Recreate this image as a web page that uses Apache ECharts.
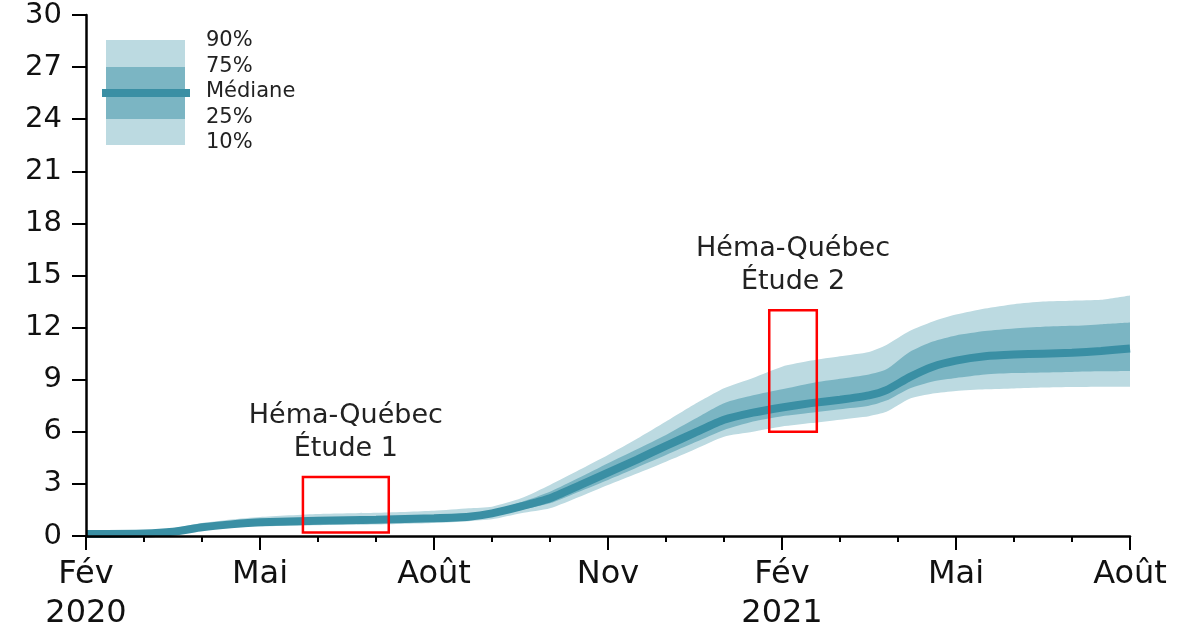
<!DOCTYPE html>
<html>
<head>
<meta charset="utf-8">
<script src="https://cdn.jsdelivr.net/npm/echarts@6/dist/echarts.min.js"></script>
<style>
  html, body { margin: 0; padding: 0; background: #fff; }
  #chart { width: 1193px; height: 630px; }
</style>
</head>
<body>
<div id="chart"></div>
<script>
  // mois depuis février 2020
  const months = [0, 1, 1.5, 2, 2.5, 3, 4, 5, 6, 6.6, 7, 7.5, 8, 8.5, 9, 9.5, 10, 10.5, 11, 11.5, 12, 12.5, 13, 13.5, 13.8, 14.2, 14.6, 15, 15.5, 16, 16.5, 17, 17.5, 18]
  const p10 = [0.03, 0.05, 0.12, 0.35, 0.48, 0.55, 0.62, 0.66, 0.75, 0.85, 0.96, 1.31, 1.6, 2.25, 2.94, 3.6, 4.28, 5.0, 5.72, 6.0, 6.3, 6.5, 6.7, 6.9, 7.15, 7.9, 8.2, 8.35, 8.45, 8.5, 8.55, 8.58, 8.6, 8.6]
  const p25 = [0.07, 0.1, 0.18, 0.42, 0.58, 0.7, 0.78, 0.83, 0.92, 1.0, 1.17, 1.5, 1.88, 2.55, 3.23, 3.95, 4.67, 5.4, 6.11, 6.6, 6.9, 7.1, 7.3, 7.5, 7.8, 8.5, 8.9, 9.1, 9.3, 9.38, 9.42, 9.45, 9.48, 9.5]
  const median = [0.12, 0.15, 0.25, 0.5, 0.67, 0.79, 0.88, 0.93, 1.02, 1.11, 1.3, 1.7, 2.17, 2.9, 3.65, 4.4, 5.19, 5.95, 6.69, 7.1, 7.4, 7.65, 7.85, 8.1, 8.4, 9.15, 9.75, 10.1, 10.35, 10.45, 10.5, 10.55, 10.65, 10.8]
  const p75 = [0.18, 0.2, 0.32, 0.58, 0.76, 0.88, 0.98, 1.04, 1.14, 1.24, 1.45, 1.95, 2.55, 3.35, 4.19, 5.0, 5.82, 6.75, 7.65, 8.1, 8.45, 8.8, 9.05, 9.3, 9.6, 10.6, 11.2, 11.55, 11.8, 11.95, 12.05, 12.1, 12.2, 12.3]
  const p90 = [0.25, 0.27, 0.45, 0.75, 0.95, 1.1, 1.27, 1.34, 1.46, 1.6, 1.69, 2.17, 2.94, 3.8, 4.67, 5.6, 6.59, 7.6, 8.51, 9.1, 9.75, 10.1, 10.35, 10.6, 11.0, 11.8, 12.35, 12.75, 13.1, 13.35, 13.5, 13.55, 13.6, 13.85]

  const tickLabels = { 0: 'Fév\n2020', 3: 'Mai', 6: 'Août', 9: 'Nov', 12: 'Fév\n2021', 15: 'Mai', 18: 'Août' }

  // études Héma-Québec : [mois début, mois fin, bas, haut]
  const studies = [
    { name: 'Héma-Québec\nÉtude 1', box: [3.74, 5.22, 0.2, 3.4] },
    { name: 'Héma-Québec\nÉtude 2', box: [11.78, 12.6, 6.0, 13.0] }
  ]

  const light = '#bcdae1'
  const mid = '#7bb5c3'
  const dark = '#3a8fa4'
  const font = '"DejaVu Sans", sans-serif'

  const pairs = arr => months.map((m, i) => [m, arr[i]])

  // bandes : on peint du haut vers le bas (90 clair, 75 moyen, 25 clair, 10 blanc)
  const area = (name, arr, color) => ({
    name: name,
    type: 'line',
    data: pairs(arr),
    smooth: 0.2,
    showSymbol: false,
    lineStyle: { width: 0 },
    areaStyle: { color: color, opacity: 1 },
    z: 2,
    silent: true
  })

  const chart = echarts.init(document.getElementById('chart'))
  chart.setOption({
    animation: false,
    grid: { left: 86, right: 63, top: 15, bottom: 94, outerBoundsMode: 'none' },
    xAxis: {
      type: 'value',
      min: 0,
      max: 18,
      interval: 3,
      z: 10,
      axisLine: { lineStyle: { color: '#000', width: 2.5 } },
      axisTick: { length: 14, lineStyle: { color: '#000', width: 2 } },
      minorTick: { show: true, splitNumber: 3, length: 6, lineStyle: { color: '#000', width: 2 } },
      splitLine: { show: false },
      axisLabel: {
        margin: 19,
        fontSize: 32,
        lineHeight: 39,
        color: '#111',
        fontFamily: font,
        verticalAlign: 'top',
        formatter: v => tickLabels[v] || ''
      }
    },
    yAxis: {
      type: 'value',
      min: 0,
      max: 30,
      interval: 3,
      z: 10,
      axisLine: { show: true, lineStyle: { color: '#000', width: 2.5 } },
      axisTick: { show: true, length: 14, lineStyle: { color: '#000', width: 2 } },
      splitLine: { show: false },
      axisLabel: { margin: 24, fontSize: 29, color: '#111', fontFamily: font }
    },
    series: [
      area('90%', p90, light),
      area('75%', p75, mid),
      area('25%', p25, light),
      area('10%', p10, '#ffffff'),
      {
        name: 'Médiane',
        type: 'line',
        data: pairs(median),
        smooth: 0.2,
        showSymbol: false,
        lineStyle: { width: 8, color: dark },
        z: 3,
        markArea: {
          silent: true,
          z: 6,
          itemStyle: { color: 'rgba(0,0,0,0)', borderColor: '#ff0000', borderWidth: 2.5 },
          label: {
            show: true,
            position: 'top',
            distance: 10,
            fontSize: 27,
            lineHeight: 33,
            color: '#222',
            fontFamily: font,
            align: 'center'
          },
          data: studies.map(s => [
            { name: s.name, coord: [s.box[0], s.box[2]] },
            { coord: [s.box[1], s.box[3]] }
          ])
        }
      }
    ],
    graphic: [
      { type: 'rect', shape: { x: 106, y: 40, width: 79, height: 105 }, style: { fill: light } },
      { type: 'rect', shape: { x: 106, y: 67, width: 79, height: 52 }, style: { fill: mid } },
      { type: 'rect', shape: { x: 102, y: 89, width: 88, height: 8 }, style: { fill: dark } },
      { type: 'text', x: 206, y: 41, style: { text: '90%', fontSize: 21, fontFamily: font, fill: '#222', verticalAlign: 'middle' } },
      { type: 'text', x: 206, y: 67, style: { text: '75%', fontSize: 21, fontFamily: font, fill: '#222', verticalAlign: 'middle' } },
      { type: 'text', x: 206, y: 92, style: { text: 'Médiane', fontSize: 21, fontFamily: font, fill: '#222', verticalAlign: 'middle' } },
      { type: 'text', x: 206, y: 118, style: { text: '25%', fontSize: 21, fontFamily: font, fill: '#222', verticalAlign: 'middle' } },
      { type: 'text', x: 206, y: 143, style: { text: '10%', fontSize: 21, fontFamily: font, fill: '#222', verticalAlign: 'middle' } }
    ]
  })
</script>
</body>
</html>
